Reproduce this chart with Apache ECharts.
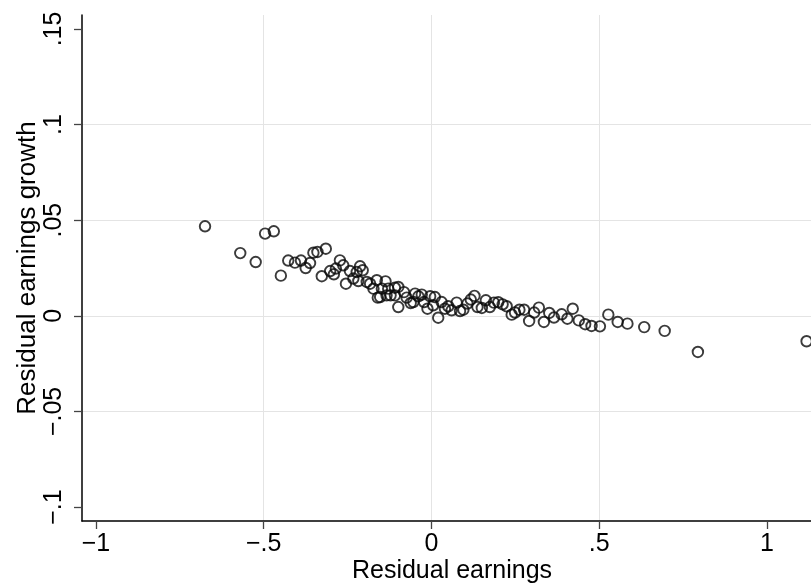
<!DOCTYPE html>
<html>
<head>
<meta charset="utf-8">
<script src="https://cdn.jsdelivr.net/npm/echarts@6/dist/echarts.min.js"></script>
<style>html,body{margin:0;padding:0;background:#fff}#c{width:811px;height:586px}</style>
</head>
<body>
<div id="c"></div>
<script>
var xTicks = [-1, -0.5, 0, 0.5, 1];
var yTicks = [-0.1, -0.05, 0, 0.05, 0.1, 0.15];
var xTitle = 'Residual earnings';
var yTitle = 'Residual earnings growth';
var xValues = [-0.675,-0.570,-0.524,-0.496,-0.470,-0.449,-0.427,-0.407,-0.389,-0.375,-0.362,-0.352,-0.340,-0.315,-0.327,-0.302,-0.291,-0.285,-0.273,-0.263,-0.255,-0.243,-0.233,-0.223,-0.213,-0.205,-0.218,-0.193,-0.183,-0.173,-0.163,-0.160,-0.148,-0.137,-0.129,-0.122,-0.109,-0.109,-0.099,-0.153,-0.134,-0.099,-0.082,-0.074,-0.062,-0.054,-0.049,-0.039,-0.029,-0.022,-0.012,-0.004,0.005,0.010,0.020,0.030,0.040,0.050,0.060,0.075,0.085,0.095,0.107,0.117,0.128,0.137,0.150,0.162,0.174,0.186,0.199,0.212,0.224,0.239,0.249,0.262,0.276,0.291,0.306,0.320,0.335,0.351,0.365,0.388,0.405,0.421,0.439,0.458,0.477,0.502,0.527,0.555,0.584,0.634,0.695,0.794,1.118];
var yValues = [0.0468,0.0328,0.0281,0.0430,0.0442,0.0210,0.0289,0.0278,0.0289,0.0250,0.0276,0.0330,0.0334,0.0351,0.0207,0.0234,0.0217,0.0247,0.0290,0.0264,0.0168,0.0234,0.0195,0.0229,0.0259,0.0238,0.0182,0.0177,0.0168,0.0142,0.0186,0.0095,0.0142,0.0180,0.0142,0.0107,0.0147,0.0107,0.0046,0.0098,0.0107,0.0151,0.0124,0.0095,0.0067,0.0072,0.0116,0.0102,0.0111,0.0072,0.0037,0.0102,0.0055,0.0098,-0.0010,0.0072,0.0037,0.0050,0.0029,0.0069,0.0025,0.0032,0.0064,0.0085,0.0104,0.0046,0.0041,0.0081,0.0046,0.0069,0.0071,0.0060,0.0050,0.0006,0.0017,0.0032,0.0032,-0.0027,0.0017,0.0043,-0.0032,0.0015,-0.0009,0.0008,-0.0015,0.0037,-0.0024,-0.0044,-0.0053,-0.0055,0.0006,-0.0032,-0.0041,-0.0059,-0.0079,-0.0189,-0.0133];

var points = xValues.map(function (x, i) { return [x, yValues[i]]; });

function fmt(v) {
  var s = String(Math.round(v * 100) / 100);
  var neg = s.charAt(0) === '-';
  if (neg) s = s.slice(1);
  if (s.indexOf('0.') === 0) s = s.slice(1);
  return (neg ? '\u2212' : '') + s;
}

var FONT = 'Liberation Sans';
var chart = echarts.init(document.getElementById('c'), null, {renderer: 'canvas'});
chart.setOption({
  animation: false,
  backgroundColor: '#ffffff',
  grid: {left: 82, right: -11, top: 15, bottom: 65, containLabel: false, outerBoundsMode: 'none'},
  xAxis: {
    type: 'value',
    min: -1.0417, max: 1.1639,
    minInterval: 0.5, maxInterval: 0.5,
    name: xTitle, nameLocation: 'middle', nameGap: 38, nameMoveOverlap: false,
    nameTextStyle: {fontFamily: FONT, fontSize: 25, color: '#000'},
    axisLine: {show: true, onZero: false, lineStyle: {color: '#000', width: 1.5}},
    axisTick: {show: true, length: 8, customValues: xTicks, lineStyle: {color: '#444', width: 1.3}},
    axisLabel: {customValues: xTicks, margin: 11, fontFamily: FONT, fontSize: 25, color: '#000', formatter: fmt},
    splitLine: {show: true, showMinLine: false, showMaxLine: false, lineStyle: {color: '#e4e4e4', width: 1}}
  },
  yAxis: {
    type: 'value',
    min: -0.1073, max: 0.1573,
    minInterval: 0.05, maxInterval: 0.05,
    name: yTitle, nameLocation: 'middle', nameGap: 41, nameMoveOverlap: false,
    nameTextStyle: {fontFamily: FONT, fontSize: 26, color: '#000'},
    axisLine: {show: true, onZero: false, lineStyle: {color: '#000', width: 1.5}},
    axisTick: {show: true, length: 8, customValues: yTicks, lineStyle: {color: '#444', width: 1.3}},
    axisLabel: {customValues: yTicks, rotate: 90, margin: 15, fontFamily: FONT, fontSize: 25, color: '#000', formatter: fmt},
    splitLine: {show: true, showMinLine: false, showMaxLine: false, lineStyle: {color: '#e4e4e4', width: 1}}
  },
  series: [{
    type: 'scatter',
    data: points,
    symbol: 'circle',
    symbolSize: 10.5,
    clip: false,
    itemStyle: {color: 'rgba(0,0,0,0)', borderColor: '#0a0a0a', borderWidth: 1.9}
  }]
});
</script>
</body>
</html>
